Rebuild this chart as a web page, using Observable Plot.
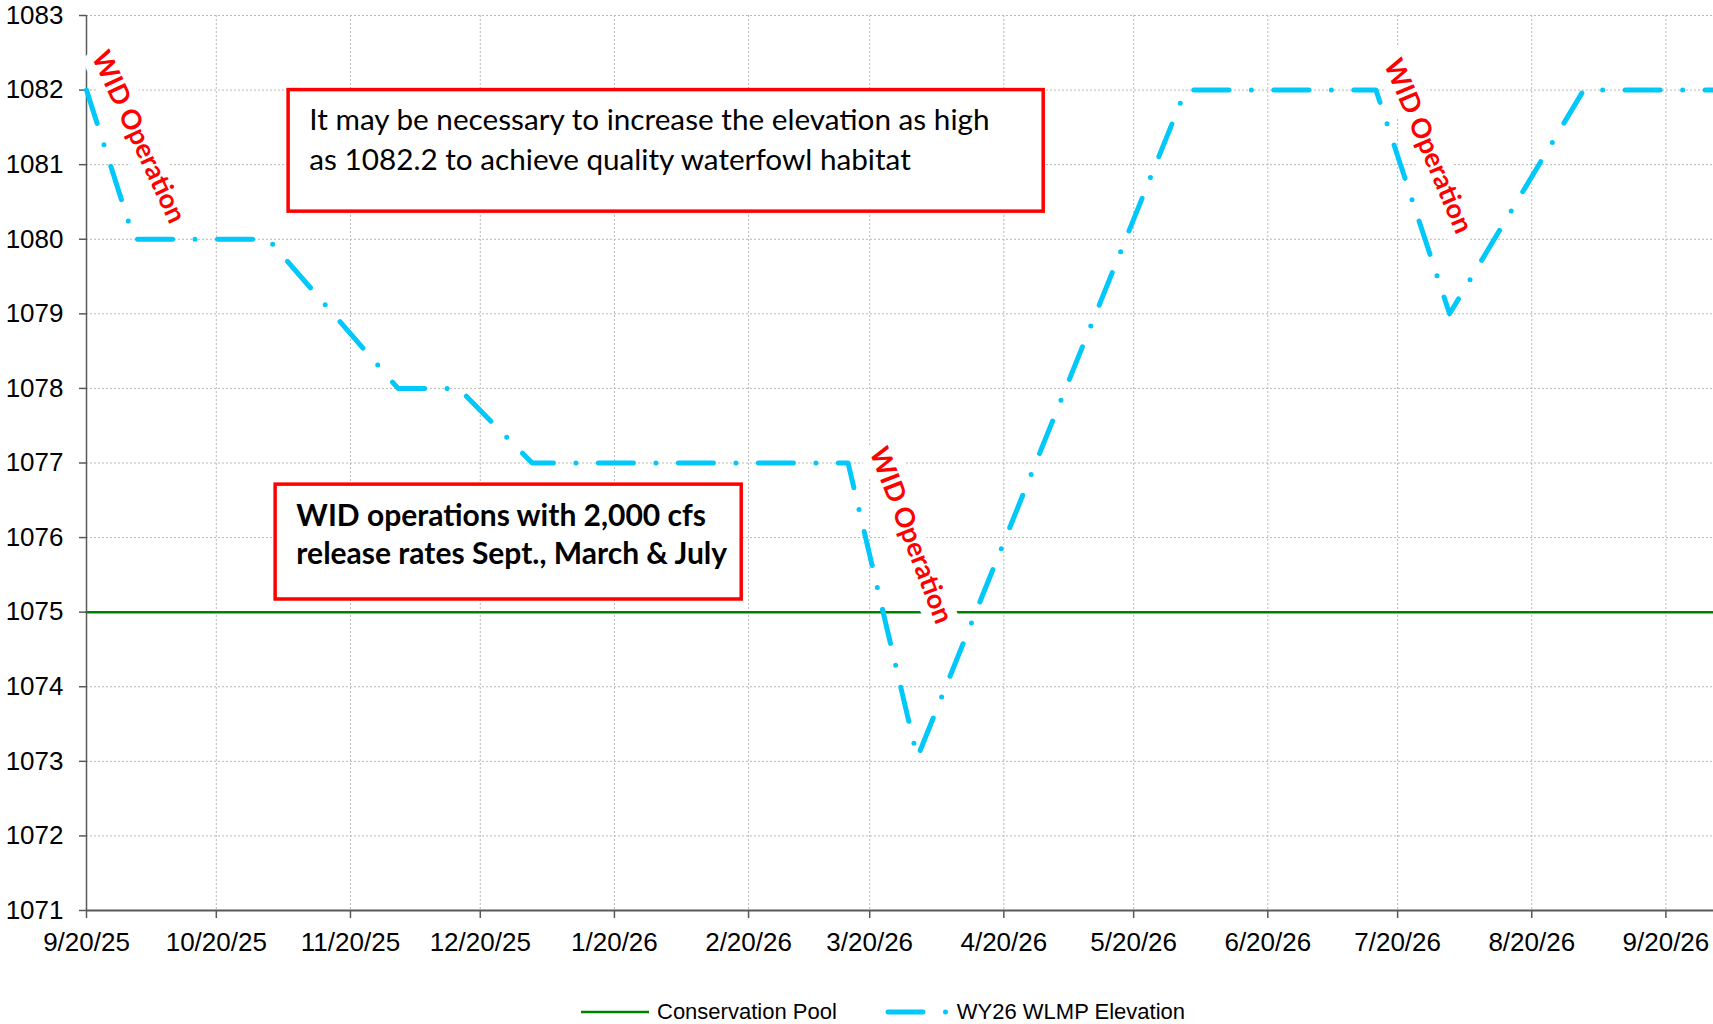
<!DOCTYPE html>
<html>
<head>
<meta charset="utf-8">
<script src="https://cdn.jsdelivr.net/npm/d3@7"></script>
<script src="https://cdn.jsdelivr.net/npm/@observablehq/plot@0.6"></script>
<style>
  html, body { margin: 0; padding: 0; background: #fff; }
  #chart svg { display: block; }
  #legend {
    height: 49px; box-sizing: border-box; padding-top: 25px; padding-left: 581px;
    display: flex; align-items: center;
    font-family: "Liberation Sans", Arial, sans-serif; font-size: 22px; color: #000;
    line-height: 24px;
  }
  #legend .item { display: flex; align-items: center; }
  #legend svg { display: block; }
</style>
</head>
<body>
<div id="chart"></div>
<div id="legend"></div>
<script>
// ---- Axis ticks ----
const tickDates = ["2025-09-20","2025-10-20","2025-11-20","2025-12-20","2026-01-20","2026-02-20",
                   "2026-03-20","2026-04-20","2026-05-20","2026-06-20","2026-07-20","2026-08-20","2026-09-20"];
const yTicks = [1071,1072,1073,1074,1075,1076,1077,1078,1079,1080,1081,1082,1083];
const xStart = "2025-09-20";
const xEnd = "2026-10-01";

// ---- Series: WY26 WLMP Elevation ----
const wlmpDates = ["2025-09-20","2025-10-01","2025-11-01","2025-12-01","2025-12-15","2026-01-01",
                   "2026-03-15","2026-03-31","2026-06-01","2026-07-15","2026-08-01","2026-09-01","2026-10-01"];
const wlmpElev  = [1082,1080,1080,1078,1078,1077,1077,1073.05,1082,1082,1079,1082,1082];

// ---- Series: Conservation Pool ----
const poolDates = ["2025-09-20","2026-10-01"];
const poolElev  = [1075,1075];

// ---- Annotations ----
const opLabelText  = ["WID Operation","WID Operation","WID Operation"];
const opLabelDates = ["2025-10-02T00:00Z","2026-03-29T12:00Z","2026-07-27T00:00Z"];
const opLabelElev  = [1081.37,1076.03,1081.25];
const opLabelAngle = [65,69,67];

const boxX1 = ["2025-11-05T17:00Z","2025-11-02T17:00Z"];
const boxX2 = ["2026-04-29T05:00Z","2026-02-18T10:00Z"];
const boxTop = [1082.0,1076.71];
const boxBottom = [1080.37,1075.17];

const boxLineText = ["It may be necessary to increase the elevation as high",
                     "as 1082.2 to achieve quality waterfowl habitat",
                     "WID operations with 2,000 cfs",
                     "release rates Sept., March & July"];
const boxLineDates = ["2025-11-10T12:00Z","2025-11-10T12:00Z","2025-11-07T12:00Z","2025-11-07T12:00Z"];
const boxLineElev = [1081.59,1081.06,1076.29,1075.77];
const boxLineBold = [false,false,true,true];

const seriesNames = ["Conservation Pool","WY26 WLMP Elevation"];

// ---- Build tables ----
const P = s => new Date(s);
const wlmp = wlmpDates.map((d, i) => ({date: P(d), elev: wlmpElev[i]}));
const pool = poolDates.map((d, i) => ({date: P(d), elev: poolElev[i]}));
const opLabels = opLabelText.map((t, i) => ({text: t, date: P(opLabelDates[i]), elev: opLabelElev[i], angle: opLabelAngle[i]}));
const boxes = boxX1.map((d, i) => ({x1: P(d), x2: P(boxX2[i]), y1: boxTop[i], y2: boxBottom[i]}));
const boxLines = boxLineText.map((t, i) => ({text: t, date: P(boxLineDates[i]), elev: boxLineElev[i], bold: boxLineBold[i]}));

const BLUE = "#00c8fa", GREEN = "#008000", RED = "#ff0000";
const DASH = "35,22.5,0,22.5";
const CAL = "Lato, 'Open Sans', sans-serif";

const chart = Plot.plot({
  width: 1713,
  height: 975,
  marginLeft: 86,
  marginRight: 0,
  marginTop: 15,
  marginBottom: 65,
  style: {fontFamily: '"Liberation Sans", Arial, sans-serif', fontSize: "26px", color: "#000", background: "#fff", overflow: "visible"},
  x: {type: "utc", domain: [P(xStart), P(xEnd)], ticks: tickDates.map(P), tickFormat: d3.utcFormat("%-m/%-d/%y"),
      tickSize: 8, tickPadding: 14, label: null},
  y: {domain: [1071, 1083], ticks: yTicks, tickSize: 7, tickPadding: 16, label: null, tickFormat: d => String(d)},
  marks: [
    Plot.ruleX(tickDates.map(P), {stroke: "#b8b8b8", strokeWidth: 1, strokeDasharray: "2,2"}),
    Plot.ruleY(yTicks, {stroke: "#b8b8b8", strokeWidth: 1, strokeDasharray: "2,2"}),
    Plot.line(pool, {x: "date", y: "elev", stroke: GREEN, strokeWidth: 2.5}),
    Plot.ruleX([P(xStart)], {stroke: "#595959", strokeWidth: 1.5}),
    Plot.ruleY([1071], {stroke: "#595959", strokeWidth: 2}),
    Plot.text(opLabels, {x: "date", y: "elev", text: "text", rotate: "angle", fill: RED, stroke: "white",
      strokeWidth: 20, strokeLinejoin: "round", paintOrder: "stroke", fontFamily: CAL, fontWeight: "bold", fontSize: 27}),
    Plot.line(wlmp, {x: "date", y: "elev", stroke: BLUE, strokeWidth: 5, strokeDasharray: DASH,
      strokeLinecap: "round", strokeLinejoin: "round"}),
    Plot.rect(boxes, {x1: "x1", x2: "x2", y1: "y1", y2: "y2", fill: "white", stroke: RED, strokeWidth: 3.5}),
    Plot.text(boxLines.filter(d => !d.bold), {x: "date", y: "elev", text: "text", textAnchor: "start",
      fill: "#000", fontFamily: CAL, fontSize: 29.7}),
    Plot.text(boxLines.filter(d => d.bold), {x: "date", y: "elev", text: "text", textAnchor: "start",
      fill: "#000", fontFamily: CAL, fontWeight: "bold", fontSize: 30})
  ]
});

chart.querySelectorAll('[aria-label="x-axis tick"], [aria-label="y-axis tick"]').forEach(g => {
  g.setAttribute("stroke", "#595959");
  g.setAttribute("stroke-width", "1.5");
});
document.getElementById("chart").appendChild(chart);

// ---- Legend ----
const legend = document.getElementById("legend");
legend.innerHTML = `
  <div class="item">
    <svg width="68" height="12"><line x1="0" y1="6" x2="68" y2="6" stroke="${GREEN}" stroke-width="2.5"/></svg>
    <span style="margin-left:8px">${seriesNames[0]}</span>
  </div>
  <div class="item" style="margin-left:48px">
    <svg width="66" height="12"><line x1="3" y1="6" x2="66" y2="6" stroke="${BLUE}" stroke-width="5"
      stroke-dasharray="${DASH}" stroke-linecap="round"/></svg>
    <span style="margin-left:6px">${seriesNames[1]}</span>
  </div>`;
</script>
</body>
</html>
